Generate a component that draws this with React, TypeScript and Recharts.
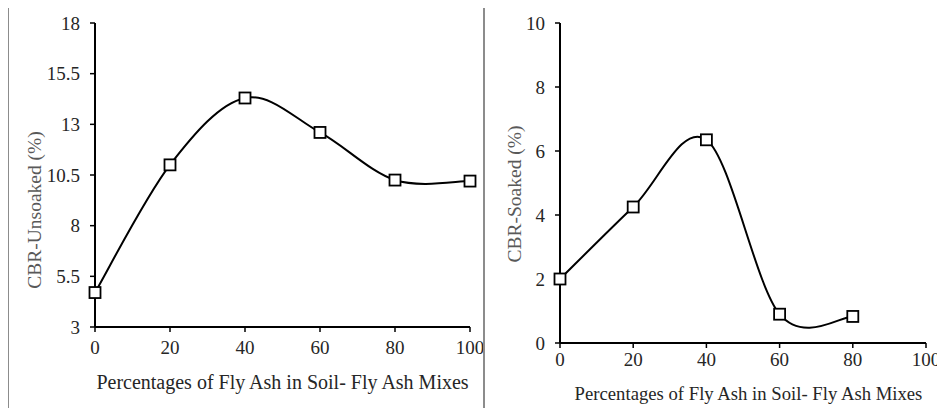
import { LineChart, Line, XAxis, YAxis, Label } from 'recharts'

// fly ash percentages (x) and CBR values
const flyAshUnsoaked = [0, 20, 40, 60, 80, 100]
const cbrUnsoaked = [4.7, 11.0, 14.3, 12.6, 10.25, 10.2]
const flyAshSoaked = [0, 20, 40, 60, 80]
const cbrSoaked = [2.0, 4.25, 6.35, 0.9, 0.83]

const xTicks = [0, 20, 40, 60, 80, 100]
const unsoakedTicks = [3, 5.5, 8, 10.5, 13, 15.5, 18]
const soakedTicks = [0, 2, 4, 6, 8, 10]

const xTitle = 'Percentages of Fly Ash in Soil- Fly Ash Mixes'

const unsoakedData = flyAshUnsoaked.map((x, i) => ({ x, y: cbrUnsoaked[i] }))
const soakedData = flyAshSoaked.map((x, i) => ({ x, y: cbrSoaked[i] }))

const FONT = '"Liberation Serif", "Times New Roman", serif'

// Excel-like smoothed line (Catmull-Rom through the points)
const smooth = (context: any) => {
  let pts: number[][] = []
  return {
    areaStart() {},
    areaEnd() {},
    lineStart() { pts = [] },
    point(x: number, y: number) { pts.push([+x, +y]) },
    lineEnd() {
      if (!pts.length) return
      context.moveTo(pts[0][0], pts[0][1])
      for (let i = 0; i < pts.length - 1; i++) {
        const p0 = pts[i - 1] || pts[i]
        const p1 = pts[i]
        const p2 = pts[i + 1]
        const p3 = pts[i + 2] || p2
        context.bezierCurveTo(
          p1[0] + (p2[0] - p0[0]) / 6, p1[1] + (p2[1] - p0[1]) / 6,
          p2[0] - (p3[0] - p1[0]) / 6, p2[1] - (p3[1] - p1[1]) / 6,
          p2[0], p2[1],
        )
      }
    },
  }
}

const SquareDot = (props: any) => {
  const { cx, cy, index } = props
  return <rect key={index} x={cx - 5.5} y={cy - 5.5} width={11} height={11} fill="#fff" stroke="#000" strokeWidth={1.8} />
}

const tickStyle = { fontSize: 19, fill: '#262626', fontFamily: FONT, style: { fontFamily: FONT } }

function Panel({ data, ticks, domain, width, margin, yTitle, xTitleX, xTitleY, xTitleSize, yTitleX, yTitleY, tickMarginX }: any) {
  return (
    <LineChart width={width} height={416} data={data} margin={margin}>
      <XAxis dataKey="x" type="number" domain={[0, 100]} ticks={xTicks} interval={0}
        stroke="#000" strokeWidth={2} tickSize={5} tickMargin={tickMarginX} tick={tickStyle}
        tickLine={{ stroke: '#000', strokeWidth: 1.5 }} height={30}>
        <Label content={() => (
          <text x={xTitleX} y={xTitleY} textAnchor="middle" fontSize={xTitleSize} fill="#262626" style={{ fontFamily: FONT }}>{xTitle}</text>
        )} />
      </XAxis>
      <YAxis dataKey="y" type="number" domain={domain} ticks={ticks} interval={0} width={60}
        stroke="#000" strokeWidth={2} tickSize={5} tickMargin={10} tick={tickStyle}
        tickLine={{ stroke: '#000', strokeWidth: 1.5 }}>
        <Label content={() => (
          <text x={yTitleX} y={yTitleY} transform={`rotate(-90, ${yTitleX}, ${yTitleY})`} textAnchor="middle"
            fontSize={19.5} fill="#595959" style={{ fontFamily: FONT }}>{yTitle}</text>
        )} />
      </YAxis>
      <Line dataKey="y" type={smooth as any} stroke="#000" strokeWidth={2} dot={SquareDot} activeDot={false} isAnimationActive={false} />
    </LineChart>
  )
}

export default function App() {
  return (
    <div style={{ position: 'relative', width: 945, height: 416, margin: -8, background: '#fff', overflow: 'hidden', fontFamily: FONT }}>
      <div style={{ position: 'absolute', left: 0, top: 0 }}>
        <Panel data={unsoakedData} ticks={unsoakedTicks} domain={[3, 18]} width={484}
          margin={{ top: 23, right: 14, bottom: 59, left: 35 }}
          yTitle="CBR-Unsoaked (%)" xTitleX={282.5} xTitleY={389} xTitleSize={20} yTitleX={41} yTitleY={210} tickMarginX={9} />
      </div>
      <div style={{ position: 'absolute', left: 484, top: 0 }}>
        <Panel data={soakedData} ticks={soakedTicks} domain={[0, 10]} width={461}
          margin={{ top: 23, right: 19, bottom: 43, left: 16 }}
          yTitle="CBR-Soaked (%)" xTitleX={264.5} xTitleY={400} xTitleSize={18.7} yTitleX={37} yTitleY={194} tickMarginX={5} />
      </div>
      <div style={{ position: 'absolute', left: 0, top: 2, width: 945, height: 2, background: '#8c8c8c' }} />
      <div style={{ position: 'absolute', left: 7, top: 2, width: 2, height: 414, background: '#8c8c8c' }} />
      <div style={{ position: 'absolute', left: 483, top: 2, width: 2, height: 414, background: '#8c8c8c' }} />
      <div style={{ position: 'absolute', left: 7, top: 414, width: 477, height: 2, background: '#d0d0d0' }} />
    </div>
  )
}
